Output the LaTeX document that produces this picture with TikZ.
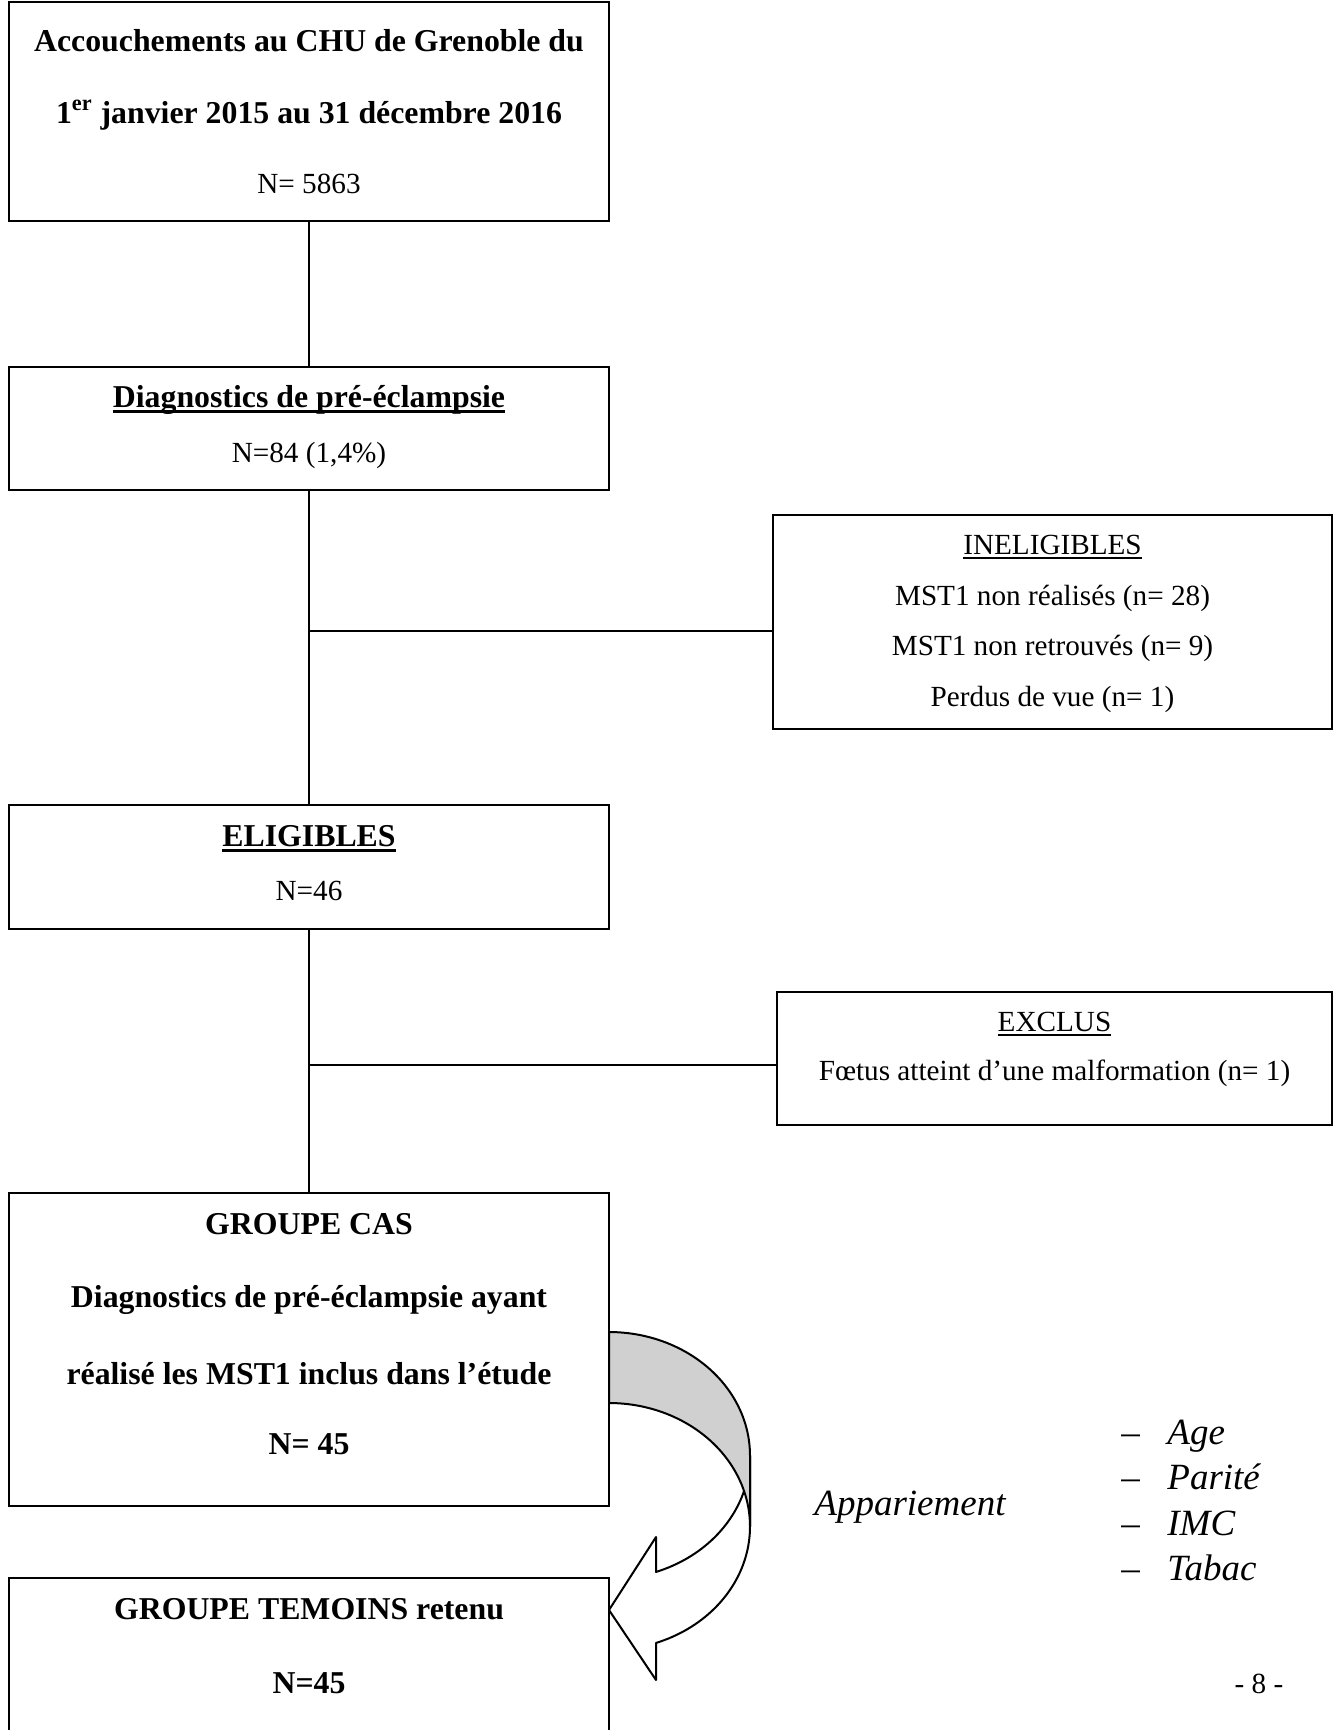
\documentclass[tikz,border=0pt]{standalone}
\usepackage{fontspec}
\setmainfont{Liberation Serif}
\newcommand\myul[3]{\setbox0\hbox{#3}\rlap{\rule[#1]{\wd0}{#2}}\box0}
\definecolor{bandgrey}{RGB}{208,208,208}
\tikzset{
  box/.style={draw, line width=1.2pt, inner sep=0pt, minimum width=300pt},
  reg/.style={font=\fontsize{14.6}{17}\selectfont, inner sep=0pt, anchor=base},
  bld/.style={font=\fontsize{15.9}{18}\selectfont\bfseries, inner sep=0pt, anchor=base},
  itl/.style={font=\fontsize{18.5}{22}\selectfont\itshape, inner sep=0pt, anchor=base},
  dsh/.style={font=\fontsize{18.5}{22}\selectfont, inner sep=0pt, anchor=base west},
  conn/.style={line width=1.2pt},
  arrowline/.style={line width=1pt, line join=round},
}
\begin{document}
\begin{tikzpicture}[x=0.5pt, y=-0.5pt]
\useasboundingbox (0,0) rectangle (1335,1730);
\clip (0,0) rectangle (1335,1730);
\fill[white] (0,0) rectangle (1335,1730);

% boxes
\node[box, minimum height=109.5pt] (b1) at (309,111.5) {};
\node[box, minimum height=61.5pt] (b2) at (309,428.5) {};
\node[box, minimum width=279.5pt, minimum height=107pt] (inel) at (1052.5,622) {};
\node[box, minimum height=62pt] (b3) at (309,867) {};
\node[box, minimum width=277.5pt, minimum height=66.5pt] (excl) at (1054.5,1058.5) {};
\node[box, minimum height=156.5pt] (b4) at (309,1349.5) {};
\node[box, minimum height=111pt] (b5) at (309,1689) {};

% connectors
\draw[conn] (b1.south) -- (b2.north);
\draw[conn] (b2.south) -- (b3.north);
\draw[conn] (b3.south) -- (b4.north);
\coordinate (j1) at (309,631);
\coordinate (j2) at (309,1065);
\draw[conn] (j1) -- (j1 -| inel.west);
\draw[conn] (j2) -- (j2 -| excl.west);

% texts box 1
\node[bld] (t11) at (309,51.5) {Accouchements au CHU de Grenoble du};
\node[bld] (t12) at (309,123.5) {1\textsuperscript{er} janvier 2015 au 31 décembre 2016};
\node[reg] (t13) at (309,193) {N= 5863};
% box 2
\node[bld] (t21) at (309,407.5) {\myul{-2.6pt}{1.4pt}{Diagnostics de pré-éclampsie}};
\node[reg] (t22) at (309,462) {N=84 (1,4\%)};
% ineligibles
\node[reg] (ti1) at (1052.5,554) {\myul{-2.4pt}{1pt}{INELIGIBLES}};
\node[reg] (ti2) at (1052.5,605) {MST1 non réalisés (n= 28)};
\node[reg] (ti3) at (1052.5,655) {MST1 non retrouvés (n= 9)};
\node[reg] (ti4) at (1052.5,706) {Perdus de vue (n= 1)};
% eligibles
\node[bld] (t31) at (309,846.5) {\myul{-2.8pt}{1.8pt}{ELIGIBLES}};
\node[reg] (t32) at (309,900) {N=46};
% exclus
\node[reg] (te1) at (1054.5,1031) {\myul{-2.4pt}{1pt}{EXCLUS}};
\node[reg] (te2) at (1054.5,1080) {Fœtus atteint d’une malformation (n= 1)};
% groupe cas
\node[bld] (t41) at (309,1234.5) {GROUPE CAS};
\node[bld] (t42) at (309,1307.5) {Diagnostics de pré-éclampsie ayant};
\node[bld] (t43) at (309,1384.5) {réalisé les MST1 inclus dans l’étude};
\node[bld] (t44) at (309,1454.5) {N= 45};
% groupe temoins
\node[bld] (t51) at (309,1619.5) {GROUPE TEMOINS retenu};
\node[bld] (t52) at (309,1693.5) {N=45};

% curved arrow (front part)
\filldraw[arrowline, fill=white]
  (750,1455.5)
  -- plot[domain=0:70.53, samples=40] ({609+141*cos(\x)},{1455.5+123.5*sin(\x)})
  -- (656,1537) -- (609,1610) -- (656,1680)
  -- plot[domain=70.53:0, samples=40] ({609+141*cos(\x)},{1526.5+123.5*sin(\x)})
  -- cycle;
% back band (shaded)
\filldraw[arrowline, fill=bandgrey]
  (609,1332)
  -- plot[domain=-90:0, samples=50] ({609+141*cos(\x)},{1455.5+123.5*sin(\x)})
  -- (750,1526.5)
  -- plot[domain=0:-90, samples=50] ({609+141*cos(\x)},{1526.5+123.5*sin(\x)})
  -- cycle;

% appariement
\node[itl, anchor=base west] (app) at (814,1515) {Appariement};
\node[dsh] (d1) at (1121,1444) {–};
\node[dsh] (d2) at (1121,1489) {–};
\node[dsh] (d3) at (1121,1535) {–};
\node[dsh] (d4) at (1121,1580) {–};
\node[itl, anchor=base west] (l1) at (1167,1444) {Age};
\node[itl, anchor=base west] (l2) at (1167,1489) {Parité};
\node[itl, anchor=base west] (l3) at (1167,1535) {IMC};
\node[itl, anchor=base west] (l4) at (1167,1580) {Tabac};
% page number
\node[reg] (pg) at (1259,1693) {- 8 -};
\end{tikzpicture}
\end{document}
